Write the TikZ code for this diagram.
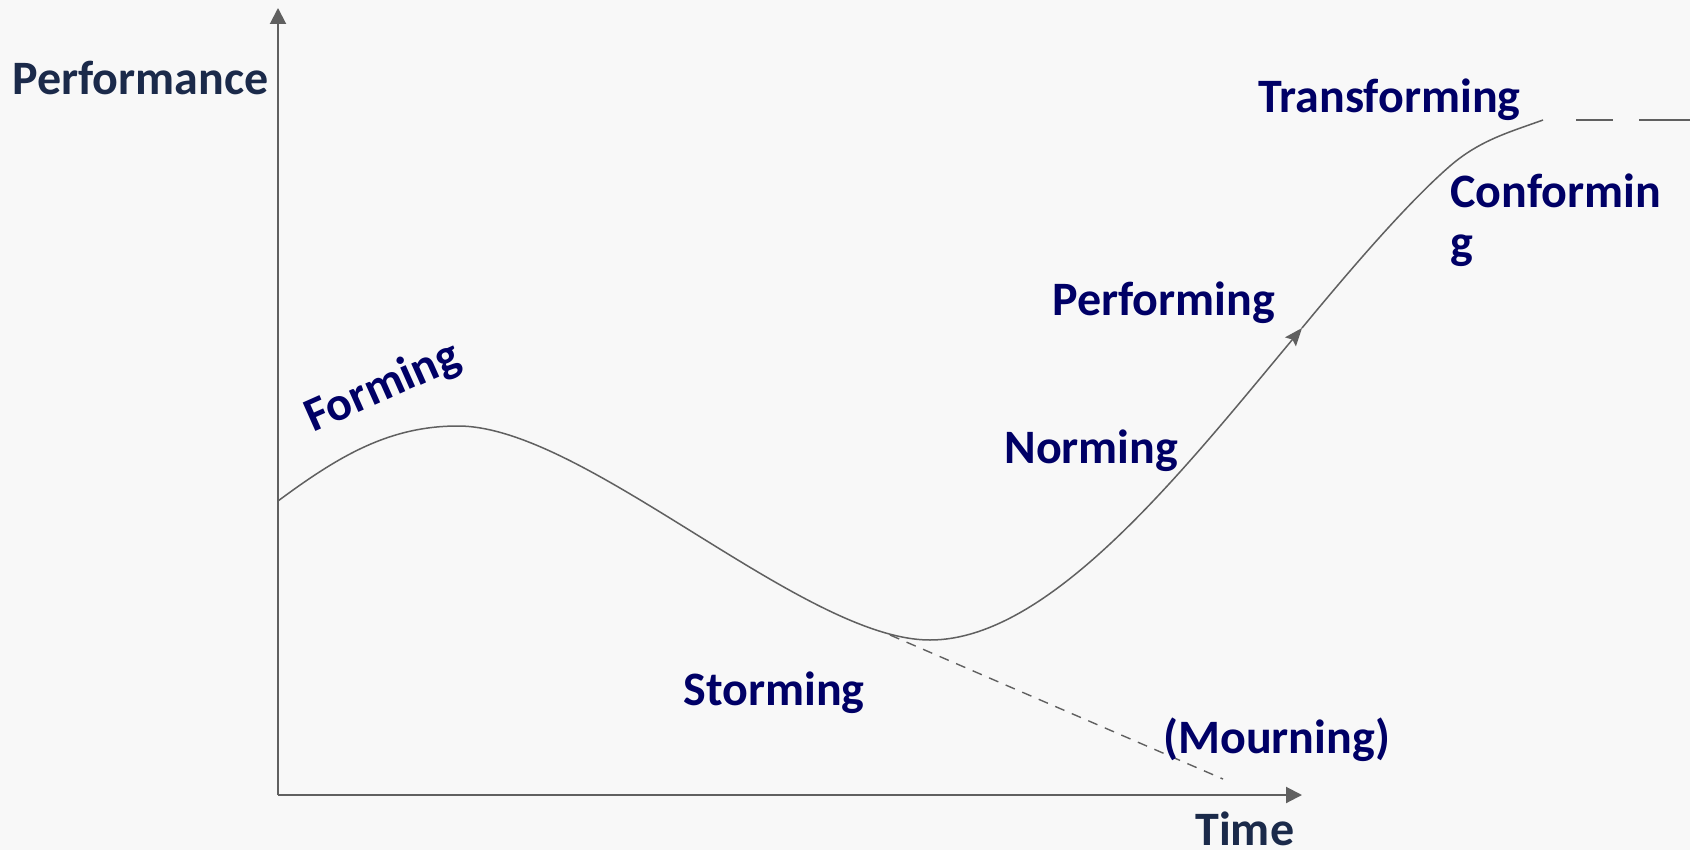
\documentclass[tikz,border=0pt]{standalone}
\usepackage{fontspec}
\setmainfont{Carlito}
\usetikzlibrary{arrows.meta}
\definecolor{bg}{HTML}{F8F8F8}
\definecolor{ln}{HTML}{606060}
\definecolor{lab}{HTML}{000066}
\definecolor{axlab}{HTML}{1B2A4A}
\begin{document}
\begin{tikzpicture}[x=0.5pt,y=-0.5pt,
  stage/.style={font=\fontsize{24}{25.5}\selectfont\bfseries, text=lab, inner sep=0pt, anchor=base west, align=left},
  axislabel/.style={stage, text=axlab},
  axisline/.style={draw=ln, line width=1pt, -{Triangle[length=8pt,width=8pt]}},
  curveline/.style={draw=ln, line width=0.75pt},
  mourn/.style={draw=ln, line width=0.7pt, dash pattern=on 5pt off 4pt},
  plateau/.style={draw=ln, line width=0.7pt, dash pattern=on 18.5pt off 13pt on 40pt}]
\fill[bg] (0,0) rectangle (1690,850);
\useasboundingbox (0,0) rectangle (1690,850);
% axes
\coordinate (O) at (278,795);
\coordinate (Ytip) at (278,8);
\coordinate (Xtip) at (1302,795);
\draw[axisline] (O) -- (Ytip);
\draw[axisline] (O) -- (Xtip);
% curve
\coordinate (C0) at (278,501);
\coordinate (Peak) at (458,426);
\coordinate (Trough) at (930,640);
\coordinate (Arr) at (1302,328);
\coordinate (Bend) at (1450,166);
\coordinate (CEnd) at (1543,120);
\draw[curveline, -{Stealth[length=9pt,width=7pt,inset=1.5pt]}] (C0) .. controls (340,455) and (390,426) .. (Peak)
  .. controls (585,426) and (803,640) .. (Trough)
  .. controls (1050,640) and (1182,472) .. (Arr);
\draw[curveline] (Arr) .. controls (1345,276) and (1405,205) .. (Bend)
  .. controls (1480,140) and (1510,132) .. (CEnd);
% mourning branch
\coordinate (M0) at (890,635);
\coordinate (M1) at (1223,779);
\draw[mourn] (M0) -- (M1);
% plateau
\coordinate (P0) at (1576,120);
\coordinate (P1) at (1690,120);
\draw[plateau] (P0) -- (P1);
% labels
\node[axislabel] (perf) at (12,95) {Performance};
\node[axislabel] (time) at (1195,845) {Time};
\node[stage, rotate=24] (forming) at (313,433) {Forming};
\node[stage] (storming) at (683,705) {Storming};
\node[stage] (norming) at (1004,463) {Norming};
\node[stage] (performing) at (1052,315) {Performing};
\node[stage] (conforming) at (1450,258) {Conformin\\g};
\node[stage] (transforming) at (1258,113) {Transforming};
\node[stage] (mourning) at (1163,753) {(Mourning)};
\end{tikzpicture}
\end{document}
